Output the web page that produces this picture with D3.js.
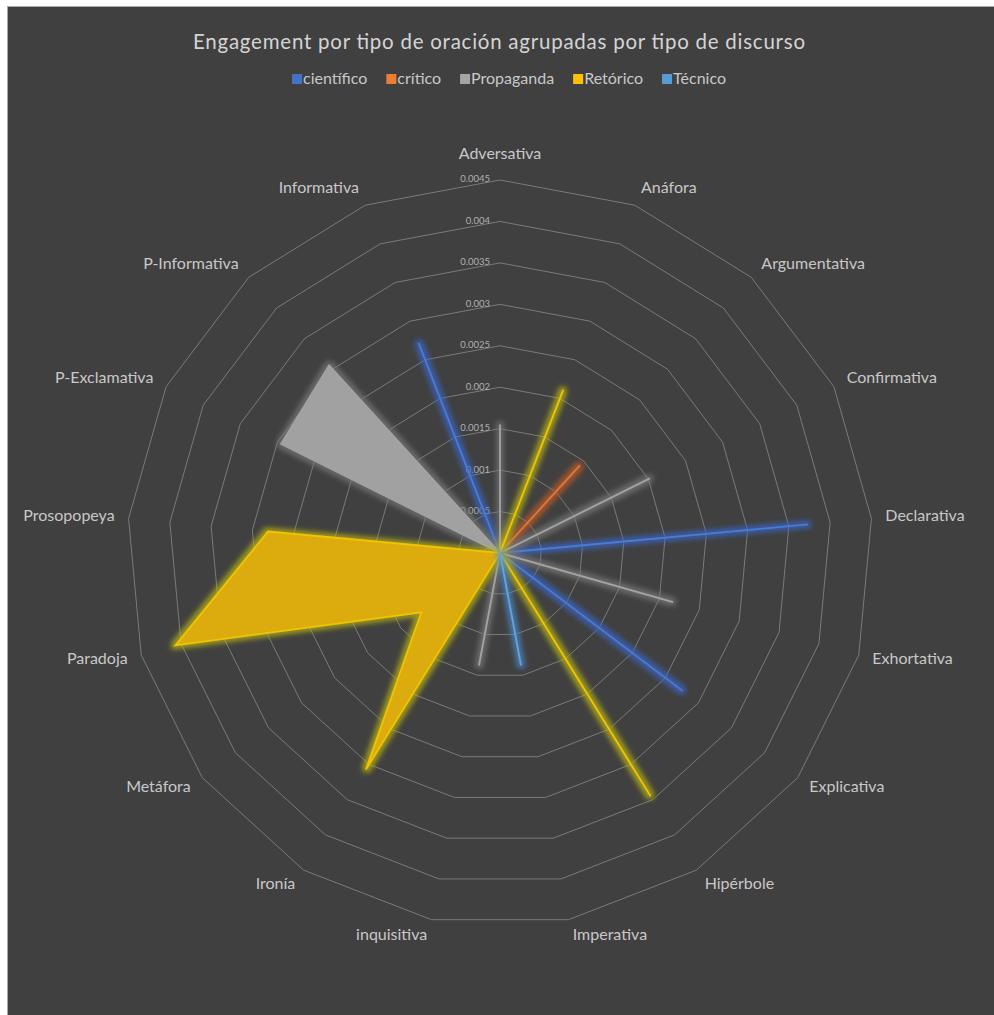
<!DOCTYPE html>
<html>
<head>
<meta charset="utf-8">
<script src="https://cdn.jsdelivr.net/npm/d3@7"></script>
<style>
  html, body { margin: 0; padding: 0; background: #ffffff; }
  svg { display: block; }
</style>
</head>
<body>
<svg id="chart" width="994" height="1015"></svg>
<script>
// Sentence types (axes of the radar, clockwise from the top)
const categories = [
  "Adversativa", "Anáfora", "Argumentativa", "Confirmativa", "Declarativa",
  "Exhortativa", "Explicativa", "Hipérbole", "Imperativa", "inquisitiva",
  "Ironía", "Metáfora", "Paradoja", "Prosopopeya", "P-Exclamativa",
  "P-Informativa", "Informativa"
];

// Engagement per sentence type, one array per discourse type
const cientifico = [0, 0, 0, 0, 0.00373, 0, 0.00276, 0, 0, 0, 0, 0, 0, 0, 0, 0, 0.00272];
const critico    = [0, 0, 0.00143, 0, 0, 0, 0, 0, 0, 0, 0, 0, 0, 0, 0, 0, 0];
const propaganda = [0.00155, 0, 0, 0.00202, 0, 0.00217, 0, 0, 0, 0.00138, 0, 0, 0, 0, 0.00295, 0.00306, 0];
const retorico   = [0, 0.00211, 0, 0, 0, 0, 0, 0.00345, 0, 0, 0.00307, 0.00119, 0.00407, 0.00281, 0, 0, 0];
const tecnico    = [0, 0, 0, 0, 0, 0, 0, 0, 0.00138, 0, 0, 0, 0, 0, 0, 0, 0];

const seriesNames = ["científico", "crítico", "Propaganda", "Retórico", "Técnico"];
const seriesValues = [cientifico, critico, propaganda, retorico, tecnico];

// Radial axis ticks
const tickValues = [0, 0.0005, 0.001, 0.0015, 0.002, 0.0025, 0.003, 0.0035, 0.004, 0.0045];
const tickLabels = ["0", "0.0005", "0.001", "0.0015", "0.002", "0.0025", "0.003", "0.0035", "0.004", "0.0045"];

const title = "Engagement por tipo de oración agrupadas por tipo de discurso";

// Look of each series: legend swatch, area fill, line and glow colours
const seriesStyle = [
  { key: "#4472c4", fill: "#4472c4", line: "#4a7bd6", glow: "#3a66c8" },
  { key: "#ed7d31", fill: "#ed7d31", line: "#e0773a", glow: "#c05c28" },
  { key: "#a5a5a5", fill: "#a3a3a3", line: "#a3a3a3", glow: "#7a7a7a" },
  { key: "#ffc000", fill: "#dfad0c", line: "#f2c400", glow: "#bdb812" },
  { key: "#5b9bd5", fill: "#5b9bd5", line: "#65a3dc", glow: "#4a8acb" }
];

const W = 994, H = 1015;
const cx = 500, cy = 553, R = 373;
const font = "Lato, 'Open Sans', 'DejaVu Sans', sans-serif";

const svg = d3.select("#chart");

// Panel
svg.append("rect").attr("width", W).attr("height", H).attr("fill", "#ffffff");
svg.append("rect")
  .attr("x", 7.5).attr("y", 6.5).attr("width", W).attr("height", H)
  .attr("fill", "#404040").attr("stroke", "#a8a8a8").attr("stroke-width", 1);

// Glow filters
const defs = svg.append("defs");
seriesStyle.forEach((s, i) => {
  const f = defs.append("filter").attr("id", "glow" + i)
    .attr("x", "-50%").attr("y", "-50%").attr("width", "200%").attr("height", "200%");
  f.append("feMorphology").attr("in", "SourceAlpha").attr("operator", "dilate").attr("radius", 2.5).attr("result", "dil");
  f.append("feGaussianBlur").attr("in", "dil").attr("stdDeviation", 2.8).attr("result", "blur");
  f.append("feFlood").attr("flood-color", s.glow).attr("flood-opacity", 0.7).attr("result", "col");
  f.append("feComposite").attr("in", "col").attr("in2", "blur").attr("operator", "in").attr("result", "halo");
  const m = f.append("feMerge");
  m.append("feMergeNode").attr("in", "halo");
  m.append("feMergeNode").attr("in", "SourceGraphic");
});

const n = categories.length;
const angle = d3.scalePoint().domain(categories).range([0, 2 * Math.PI * (n - 1) / n]);
const r = d3.scaleLinear().domain([0, 0.0045]).range([0, R]);

const g = svg.append("g").attr("transform", `translate(${cx},${cy})`);

// Polygonal grid rings
tickValues.slice(1).forEach(v => {
  const line = d3.lineRadial().curve(d3.curveLinearClosed)
    .angle(c => angle(c)).radius(() => r(v));
  g.append("path").attr("d", line(categories))
    .attr("fill", "none").attr("stroke", "#7a7a7a").attr("stroke-width", 1);
});

// Radial axis tick labels
g.selectAll("text.tick").data(tickValues).join("text")
  .attr("class", "tick")
  .attr("x", -10).attr("y", v => -r(v))
  .attr("text-anchor", "end").attr("dominant-baseline", "middle")
  .attr("font-family", font).attr("font-size", 9.5).attr("fill", "#b0b0b0")
  .text((v, i) => tickLabels[i]);

// Series areas
const area = d3.lineRadial().curve(d3.curveLinearClosed)
  .angle((d, i) => angle(categories[i])).radius(d => r(d));
seriesValues.forEach((vals, i) => {
  const s = seriesStyle[i];
  g.append("path").attr("d", area(vals))
    .attr("fill", s.fill).attr("fill-opacity", 0.95)
    .attr("stroke", s.line).attr("stroke-width", 1.8).attr("stroke-linejoin", "miter")
    .attr("filter", `url(#glow${i})`);
});

// Category labels
const labelR = R + 12;
categories.forEach(c => {
  const a = angle(c);
  const sx = Math.sin(a), cs = Math.cos(a);
  const t = g.append("text")
    .attr("font-family", font).attr("font-size", 16).attr("fill", "#c8c8c8")
    .attr("dominant-baseline", "middle")
    .text(c);
  if (Math.abs(sx) < 0.01) {
    t.attr("text-anchor", "middle")
     .attr("x", 0)
     .attr("y", cs > 0 ? -labelR - 13 : labelR + 13);
  } else {
    t.attr("text-anchor", sx > 0 ? "start" : "end")
     .attr("x", labelR * sx + (sx > 0 ? 2 : -2))
     .attr("y", -labelR * cs - 5 * cs);
  }
});

// Title
svg.append("text")
  .attr("x", 499).attr("y", 44)
  .attr("text-anchor", "middle").attr("dominant-baseline", "middle")
  .attr("font-family", font).attr("font-size", 20.5).attr("fill", "#d4d4d4")
  .attr("textLength", 612).attr("lengthAdjust", "spacing")
  .text(title);

// Legend
const legend = svg.append("g");
let lx = 0;
seriesNames.forEach((name, i) => {
  const gi = legend.append("g");
  gi.append("rect").attr("x", 0).attr("y", -5).attr("width", 10).attr("height", 10)
    .attr("fill", seriesStyle[i].key);
  const t = gi.append("text").attr("x", 11).attr("y", 0.5)
    .attr("dominant-baseline", "middle")
    .attr("font-family", font).attr("font-size", 16).attr("fill", "#c8c8c8")
    .text(name);
  const w = 11 + t.node().getComputedTextLength();
  gi.attr("transform", `translate(${lx},0)`);
  lx += w + 19;
});
const legendW = lx - 19;
legend.attr("transform", `translate(${509 - legendW / 2},79)`);
</script>
</body>
</html>
